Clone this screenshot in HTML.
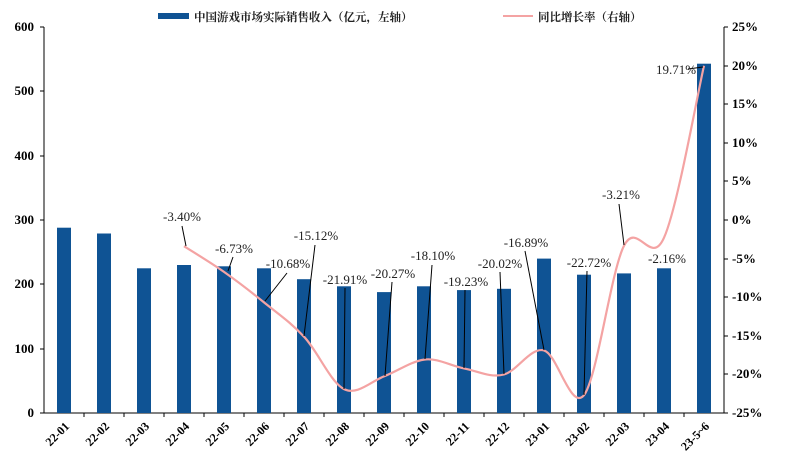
<!DOCTYPE html>
<html><head><meta charset="utf-8"><style>body{margin:0;background:#fff}svg{display:block}</style></head><body>
<svg width="787" height="462" xmlns="http://www.w3.org/2000/svg" font-family="Liberation Serif, serif">
<g font-size="13" font-weight="bold" fill="#000">
<text x="34" y="417" text-anchor="end">0</text>
<text x="34" y="353" text-anchor="end">100</text>
<text x="34" y="288" text-anchor="end">200</text>
<text x="34" y="224" text-anchor="end">300</text>
<text x="34" y="160" text-anchor="end">400</text>
<text x="34" y="95" text-anchor="end">500</text>
<text x="34" y="31" text-anchor="end">600</text>
<text x="732" y="417">-25%</text>
<text x="732" y="378">-20%</text>
<text x="732" y="340">-15%</text>
<text x="732" y="301">-10%</text>
<text x="732" y="263">-5%</text>
<text x="732" y="224">0%</text>
<text x="732" y="185">5%</text>
<text x="732" y="147">10%</text>
<text x="732" y="108">15%</text>
<text x="732" y="70">20%</text>
<text x="732" y="31">25%</text>
</g>
<g stroke="#000" stroke-width="1">
<line x1="44" y1="27" x2="44" y2="413"/>
<line x1="724" y1="27" x2="724" y2="413"/>
<line x1="40" y1="413" x2="728" y2="413"/>
<path d="M40 27H44M40 91H44M40 156H44M40 220H44M40 284H44M40 349H44M724 27H728M724 66H728M724 104H728M724 143H728M724 181H728M724 220H728M724 259H728M724 297H728M724 336H728M724 374H728M84 413V417M124 413V417M164 413V417M204 413V417M244 413V417M284 413V417M324 413V417M364 413V417M404 413V417M444 413V417M484 413V417M524 413V417M564 413V417M604 413V417M644 413V417M684 413V417"/>
</g>
<g fill="#0f5394">
<rect x="57" y="227.7" width="14" height="185.3"/>
<rect x="97" y="233.5" width="14" height="179.5"/>
<rect x="137" y="268.3" width="14" height="144.7"/>
<rect x="177" y="265.0" width="14" height="148"/>
<rect x="217" y="266.3" width="14" height="146.7"/>
<rect x="257" y="268.3" width="14" height="144.7"/>
<rect x="297" y="279.2" width="14" height="133.8"/>
<rect x="337" y="286.3" width="14" height="126.7"/>
<rect x="377" y="292.1" width="14" height="120.9"/>
<rect x="417" y="286.3" width="14" height="126.7"/>
<rect x="457" y="290.1" width="14" height="122.9"/>
<rect x="497" y="288.8" width="14" height="124.2"/>
<rect x="537" y="258.6" width="14" height="154.4"/>
<rect x="577" y="274.7" width="14" height="138.3"/>
<rect x="617" y="273.4" width="14" height="139.6"/>
<rect x="657" y="268.3" width="14" height="144.7"/>
<rect x="697" y="63.7" width="14" height="349.3"/>
</g>
<path fill="none" stroke="#f4a3a3" stroke-width="2.2" d="M184 246.2C190.7 250.5 210.7 262.5 224 271.9C237.3 281.3 250.7 291.6 264 302.4C277.3 313.2 290.7 322.2 304 336.7C317.3 350.5 330.7 382.5 344 389.1C357.3 395.7 370.7 381.5 384 376.4C397.3 371.3 410.7 361.6 424 359.6C437.3 357.6 450.7 365.9 464 368.4C477.3 370.9 490.7 378.2 504 374.5C517.3 370.8 530.7 346.9 544 350.4C557.3 353.9 570.7 411.1 584 395.2C597.3 377.8 610.7 272 624 245.8C637.3 219.6 650.7 267.7 664 237.7C677.3 208.5 697.3 94.5 704 65.8"/>
<g stroke="#000" stroke-width="1">
<line x1="182" y1="226" x2="186" y2="246"/>
<line x1="233" y1="257" x2="228" y2="271"/>
<line x1="287" y1="273" x2="265" y2="301"/>
<line x1="315" y1="245" x2="304" y2="336"/>
<line x1="345" y1="288" x2="344" y2="389"/>
<line x1="392" y1="282" x2="385" y2="376"/>
<line x1="432" y1="265" x2="425" y2="359"/>
<line x1="465" y1="290" x2="464" y2="368"/>
<line x1="500" y1="272" x2="504" y2="374"/>
<line x1="525" y1="251" x2="544" y2="350"/>
<line x1="587" y1="271" x2="584" y2="395"/>
<line x1="619" y1="204" x2="624" y2="245"/>
<line x1="688" y1="69" x2="703" y2="67"/>
</g>
<g font-size="13" fill="#222" text-anchor="middle">
<text x="182" y="221">-3.40%</text>
<text x="234" y="253">-6.73%</text>
<text x="288" y="268">-10.68%</text>
<text x="316" y="240">-15.12%</text>
<text x="345" y="284">-21.91%</text>
<text x="393" y="278">-20.27%</text>
<text x="433" y="260">-18.10%</text>
<text x="466" y="286">-19.23%</text>
<text x="500" y="268">-20.02%</text>
<text x="526" y="247">-16.89%</text>
<text x="589" y="267">-22.72%</text>
<text x="621" y="199">-3.21%</text>
<text x="667" y="263">-2.16%</text>
<text x="676" y="74">19.71%</text>
</g>
<rect x="158" y="13" width="31" height="6" fill="#0f5394"/>
<text x="194" y="21" font-size="11.5" font-family="Noto Serif CJK SC, serif" font-weight="bold" fill="#222">中国游戏市场实际销售收入（亿元，左轴）</text>
<line x1="503" y1="16" x2="533" y2="16" stroke="#f4a3a3" stroke-width="2"/>
<text x="538" y="21" font-size="11.5" font-family="Noto Serif CJK SC, serif" font-weight="bold" fill="#222">同比增长率（右轴）</text>
<g font-size="12" font-weight="bold" fill="#000" text-anchor="end">
<text transform="translate(70,427) rotate(-45)">22-01</text>
<text transform="translate(110,427) rotate(-45)">22-02</text>
<text transform="translate(150,427) rotate(-45)">22-03</text>
<text transform="translate(190,427) rotate(-45)">22-04</text>
<text transform="translate(230,427) rotate(-45)">22-05</text>
<text transform="translate(270,427) rotate(-45)">22-06</text>
<text transform="translate(310,427) rotate(-45)">22-07</text>
<text transform="translate(350,427) rotate(-45)">22-08</text>
<text transform="translate(390,427) rotate(-45)">22-09</text>
<text transform="translate(430,427) rotate(-45)">22-10</text>
<text transform="translate(470,427) rotate(-45)">22-11</text>
<text transform="translate(510,427) rotate(-45)">22-12</text>
<text transform="translate(550,427) rotate(-45)">23-01</text>
<text transform="translate(590,427) rotate(-45)">23-02</text>
<text transform="translate(630,427) rotate(-45)">22-03</text>
<text transform="translate(670,427) rotate(-45)">23-04</text>
<text transform="translate(710,427) rotate(-45)">23-5~6</text>
</g>
</svg>
</body></html>
